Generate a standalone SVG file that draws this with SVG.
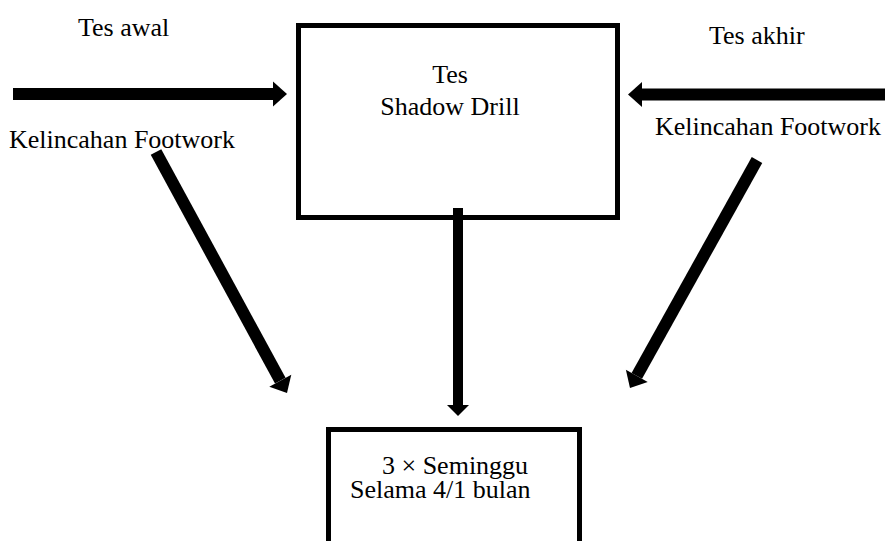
<svg xmlns="http://www.w3.org/2000/svg" width="891" height="541" viewBox="0 0 891 541">
<style>
text{font-family:"Liberation Serif","Times New Roman",serif;font-size:26px;fill:#000}
.box{fill:#fff;stroke:#000;stroke-width:5}
.arr{stroke:#000;stroke-width:12;fill:none}
.arrv{stroke:#000;stroke-width:10;fill:none}
</style>
<defs>
<marker id="head" markerUnits="userSpaceOnUse" markerWidth="15" markerHeight="26" refX="0" refY="12.5" orient="auto" overflow="visible">
<path d="M0,0 L14,12.5 L0,25 z" fill="#000"/>
</marker>
<marker id="headv" markerUnits="userSpaceOnUse" markerWidth="12" markerHeight="23" refX="0" refY="11" orient="auto" overflow="visible">
<path d="M0,0 L11,11 L0,22 z" fill="#000"/>
</marker>
</defs>
<rect width="891" height="541" fill="#fff"/>
<g id="labels">
<text x="78" y="36">Tes awal</text>
<text x="709" y="44">Tes akhir</text>
<text x="9" y="148">Kelincahan Footwork</text>
<text x="655" y="135">Kelincahan Footwork</text>
</g>
<g id="node-tes">
<rect class="box" x="298.5" y="25.5" width="319" height="192"/>
<text x="450" y="83" text-anchor="middle">Tes</text>
<text x="450" y="115" text-anchor="middle">Shadow Drill</text>
</g>
<g id="node-jadwal">
<rect class="box" x="328.5" y="429.5" width="251" height="130"/>
<text x="382" y="474">3 × Seminggu</text>
<text x="350" y="498">Selama 4/1 bulan</text>
</g>
<g id="connectors">
<line class="arr" x1="13" y1="94" x2="273" y2="94" marker-end="url(#head)"/>
<line class="arr" x1="885" y1="94.5" x2="642" y2="94.5" marker-end="url(#head)"/>
<line class="arrv" x1="458" y1="208" x2="458" y2="405" marker-end="url(#headv)"/>
<line class="arr" x1="156" y1="152" x2="280.3" y2="380.7" marker-end="url(#head)"/>
<line class="arr" x1="757" y1="160" x2="636.8" y2="375.8" marker-end="url(#head)"/>
</g>
</svg>
